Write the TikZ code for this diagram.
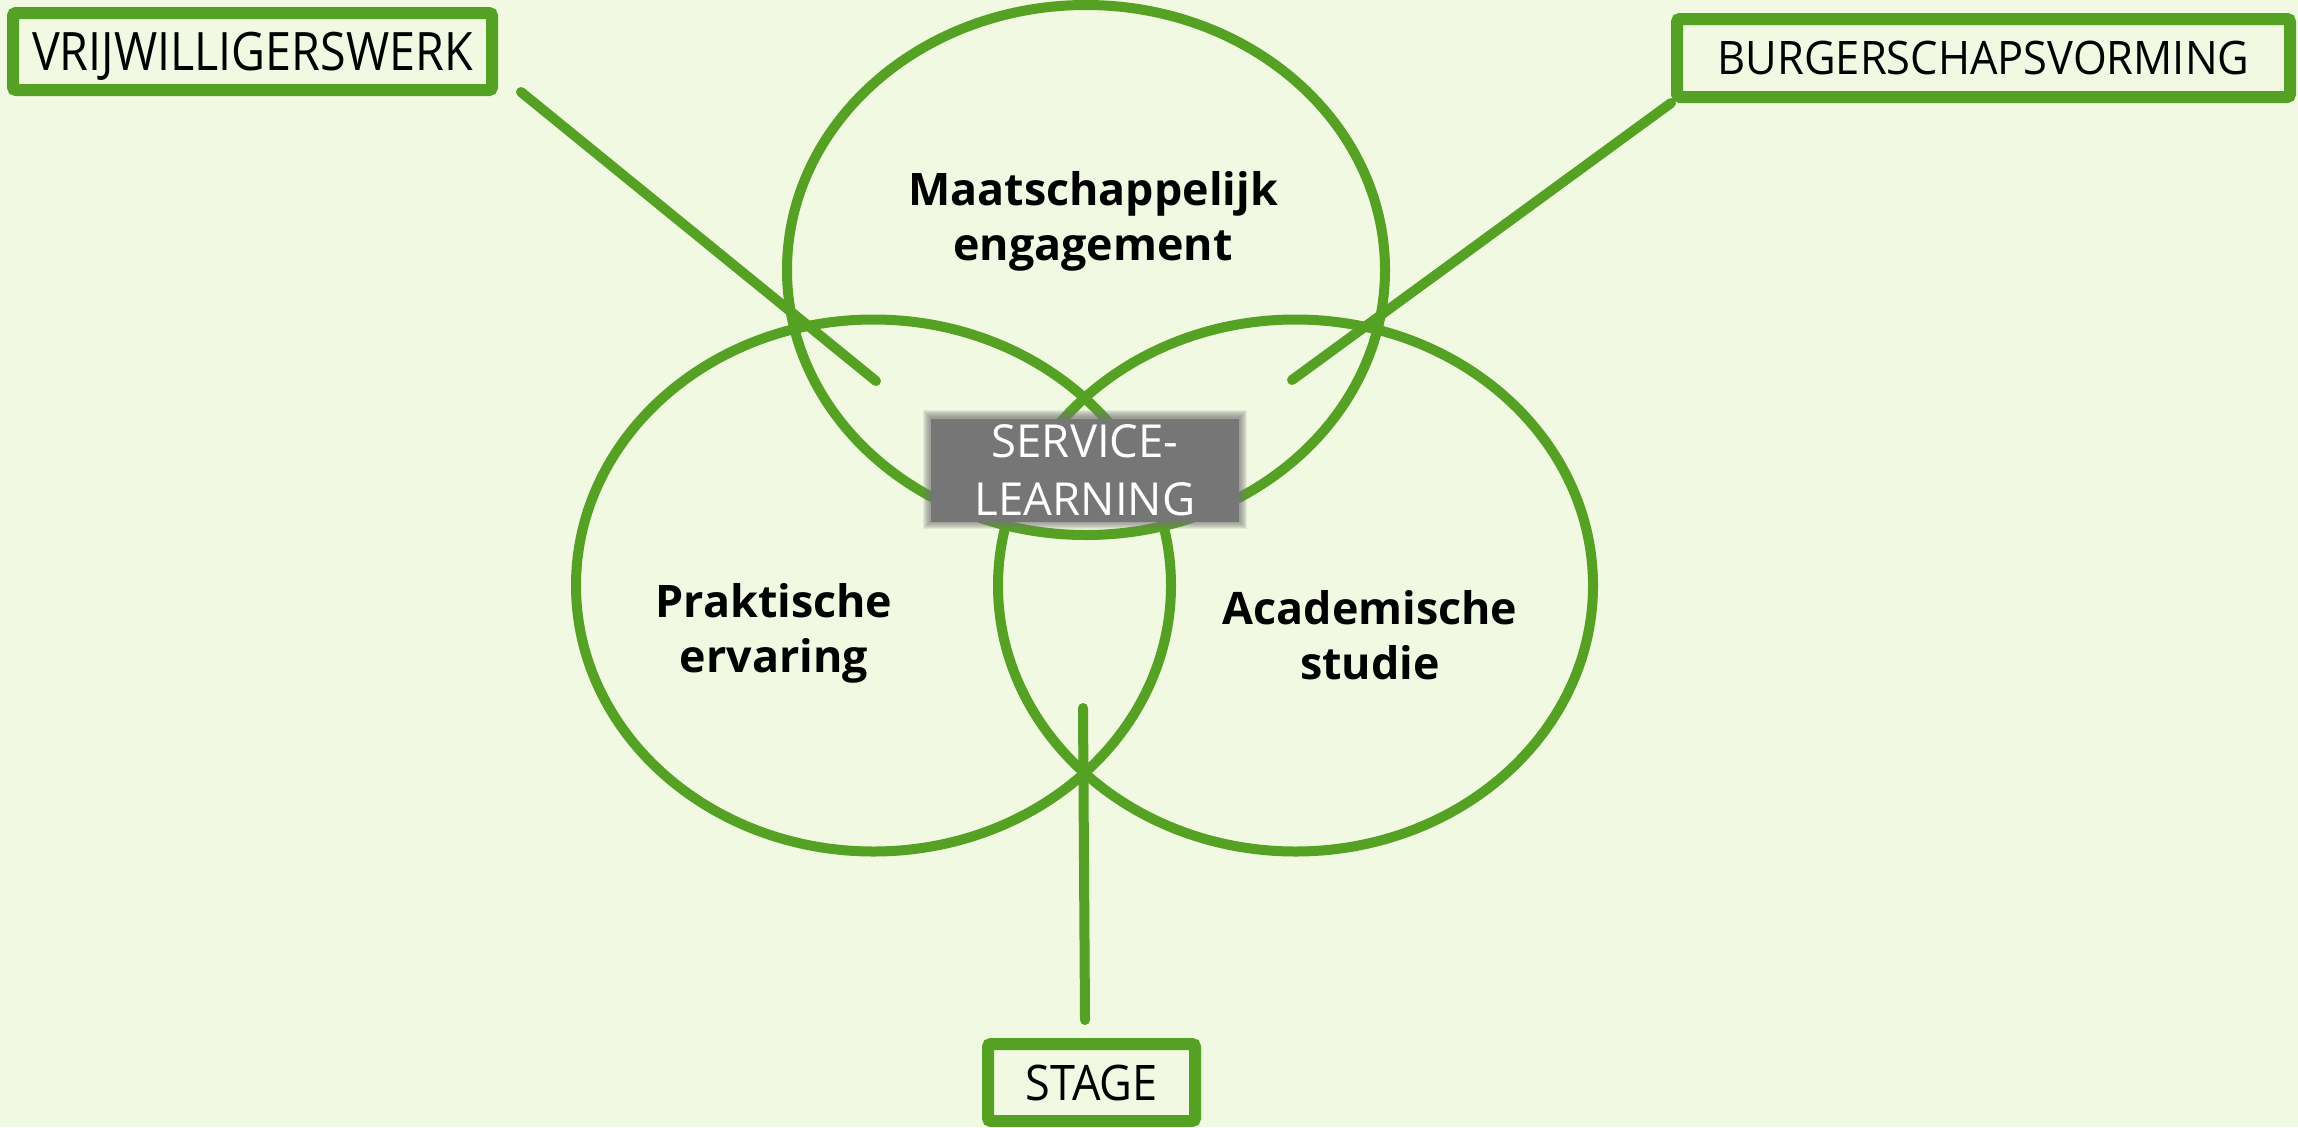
\documentclass[tikz,border=0pt]{standalone}
\usepackage{fontspec}
\usetikzlibrary{shapes.geometric}
\setmainfont{Open Sans}
\newfontfamily\vrijfont[FakeStretch=0.88]{Open Sans}
\newfontfamily\stagefont[FakeStretch=0.92]{Open Sans}
\newfontfamily\burgfont[FakeStretch=0.94]{Open Sans}
\newfontfamily\slfont{Open Sans}
\definecolor{bg}{RGB}{241,249,227}
\definecolor{sgreen}{RGB}{85,161,35}
\definecolor{slgray}{RGB}{118,118,118}
\begin{document}
\begin{tikzpicture}[x=1pt,y=-1pt,
  ring/.style={ellipse,draw=sgreen,line width=10pt,inner sep=0pt,minimum width=598pt,minimum height=530pt},
  conn/.style={draw=sgreen,line width=10pt,line cap=round},
  tagbox/.style={draw=sgreen,rounded corners=3pt,inner sep=0pt,text depth=0pt},
  lab/.style={align=center,font=\bfseries\fontsize{44.8}{55}\selectfont,inner sep=0pt}]
\fill[bg] (0,0) rectangle (2298,1127);
\useasboundingbox (0,0) rectangle (2298,1127);
% circles
\node[ring] (top) at (1086,270) {};
\node[ring,minimum width=595pt,minimum height=532pt] (left) at (873.5,585.5) {};
\node[ring,minimum width=595pt,minimum height=532pt] (right) at (1295.5,585.5) {};
% labels
\node[lab] (lmaat) at (1093,221) {Maatschappelijk\\engagement};
\node[lab] (lprak) at (774,633.5) {Praktische\\ervaring};
\node[lab] (lacad) at (1370,635.5) {Academische\\studie};
% tag boxes
\node[tagbox,line width=12pt,minimum width=479pt,minimum height=77pt,
  font=\vrijfont\fontsize{53}{60}\selectfont,text height=38pt] (vrij) at (252.5,51.5) {VRIJWILLIGERSWERK};
\node[tagbox,line width=12pt,minimum width=613pt,minimum height=78pt,
  font=\burgfont\fontsize{46.2}{55}\selectfont,text height=33pt] (burg) at (1983.5,58) {BURGERSCHAPSVORMING};
\node[tagbox,line width=12pt,minimum width=207pt,minimum height=77pt,
  font=\stagefont\fontsize{49}{55}\selectfont,text height=35pt] (stage) at (1091.5,1082.5) {STAGE};
% connectors
\coordinate (vrijstart) at (521,92);
\coordinate (vrijtip) at (876,381);
\coordinate (burgtip) at (1292,380);
\coordinate (stagetop) at (1083,708);
\coordinate (stagebot) at (1085,1020);
\draw[conn] (vrijstart) -- (vrijtip);
\draw[conn] (burg.south west) -- (burgtip);
\draw[conn] (stagetop) -- (stagebot);
% service-learning box with soft edge
\foreach \d in {1,...,8}{
  \fill[slgray,fill opacity=0.13] (931-\d,418-\d) rectangle (1239+\d,521+\d);
}
\node[fill=slgray,text=white,minimum width=308pt,minimum height=103pt,inner sep=0pt,
  align=center,font=\slfont\fontsize{45.5}{58}\selectfont] (sl) at (1085,470) {SERVICE-\\LEARNING};
\end{tikzpicture}
\end{document}
